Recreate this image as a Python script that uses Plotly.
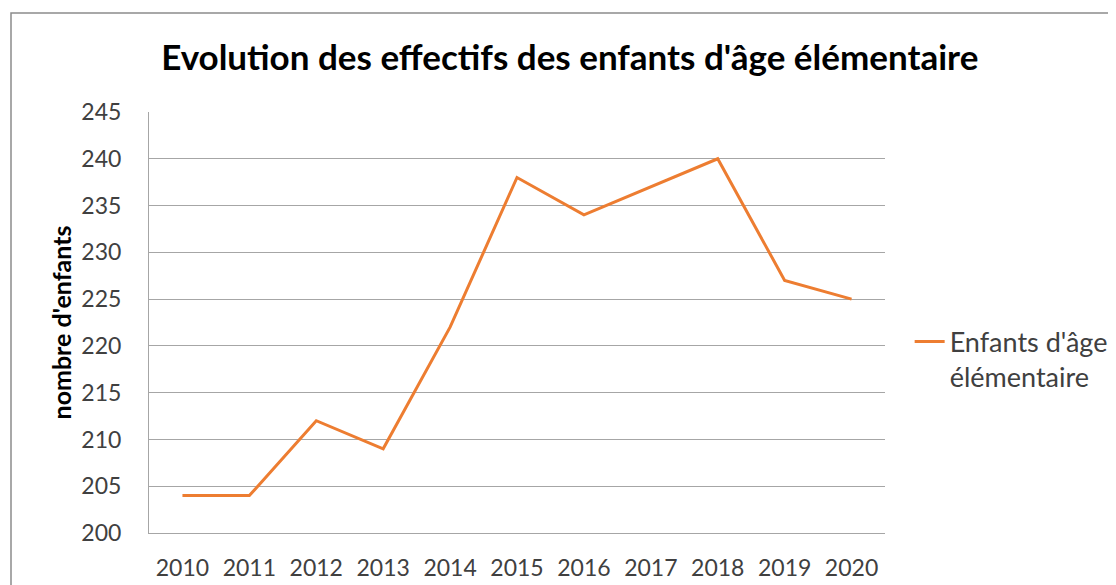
import plotly.graph_objects as go

years = ["2010", "2011", "2012", "2013", "2014", "2015", "2016", "2017", "2018", "2019", "2020"]
enfants = [204, 204, 212, 209, 222, 238, 234, 237, 240, 227, 225]
y_ticks = [200, 205, 210, 215, 220, 225, 230, 235, 240, 245]

FONT = "Lato"
GRID = "#a6a6a6"

fig = go.Figure()
fig.add_trace(go.Scatter(
    x=years, y=enfants, mode="lines",
    name="Enfants d'âge<br>élémentaire",
    line=dict(color="#ed7d31", width=3),
))

fig.update_layout(
    width=1108, height=577,
    margin=dict(l=141, r=231, t=104, b=52, autoexpand=False),
    paper_bgcolor="white", plot_bgcolor="white",
    font=dict(family=FONT, color="#404040"),
    title=dict(text="<b>Evolution des effectifs des enfants d'âge élémentaire</b>",
               x=0.507, xanchor="center", y=0.913, yanchor="middle",
               font=dict(family=FONT, size=35, color="#000000")),
    xaxis=dict(type="category", range=[-0.5, 10.5], showgrid=False,
               showline=True, linecolor=GRID, linewidth=1,
               ticks="", ticklabelstandoff=14, automargin=False,
               tickfont=dict(size=23, color="#404040")),
    yaxis=dict(range=[200, 245], tickvals=y_ticks, showgrid=True, gridcolor=GRID,
               gridwidth=1, showline=True, linecolor=GRID, linewidth=1, zeroline=False,
               ticks="", ticklabelstandoff=22, automargin=False,
               tickfont=dict(size=23, color="#404040"),
               title=dict(text="<b>nombre d'enfants</b>", standoff=2,
                          font=dict(size=25, color="#000000"))),
    showlegend=True,
    legend=dict(x=1.0335, y=0.412, xanchor="left", yanchor="middle", valign="top",
                font=dict(size=27, color="#404040"), bgcolor="rgba(0,0,0,0)",
                itemwidth=30),
)

fig.add_shape(type="rect", xref="paper", yref="paper",
              x0=-0.1875, x1=1.33, y0=-0.2, y1=1.235,
              line=dict(color="#8c8c8c", width=1.5), fillcolor="rgba(0,0,0,0)", layer="below")

fig.write_html("out.html")
